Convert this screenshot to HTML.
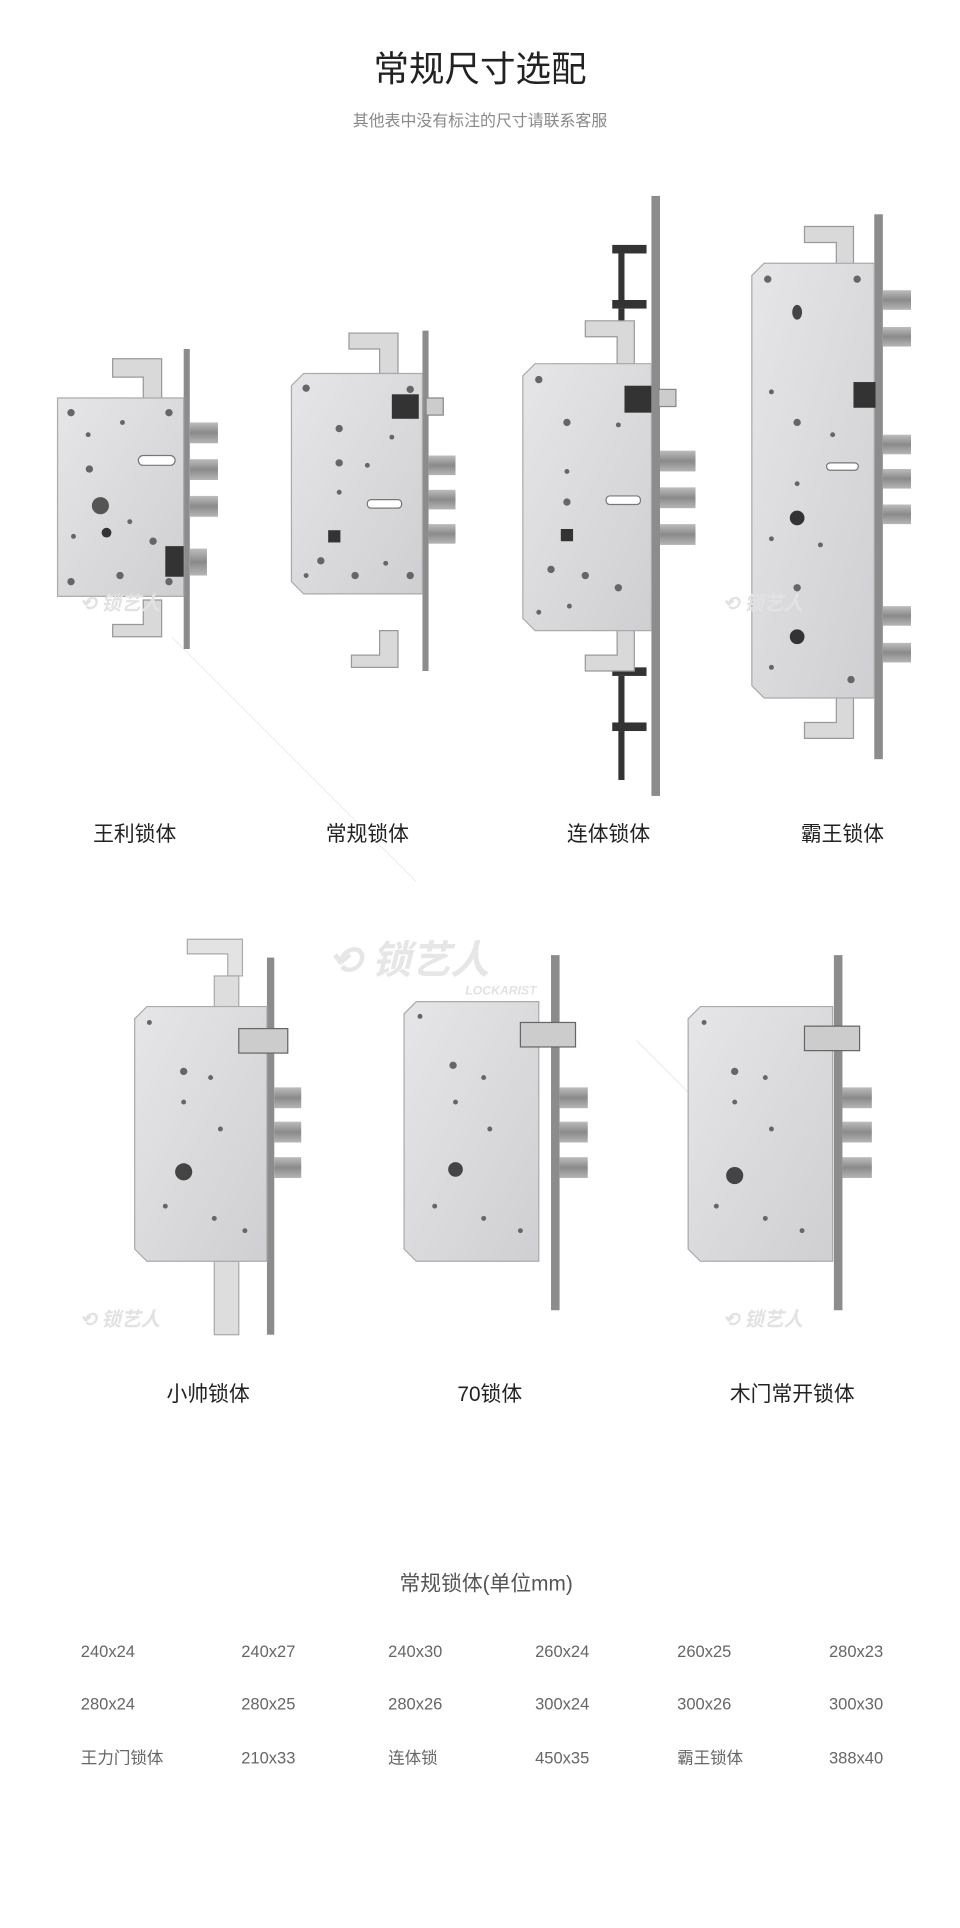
<!DOCTYPE html>
<html><head><meta charset="utf-8"><style>
html,body{margin:0;padding:0;background:#fff;}
svg{display:block;}
text{font-family:"Liberation Sans","Noto Sans CJK SC",sans-serif;}
</style></head><body>
<svg width="960" height="1928" viewBox="0 0 784 1574.5" preserveAspectRatio="none" xmlns="http://www.w3.org/2000/svg">
<defs>
<linearGradient id="g" x1="0" x2="1" y1="0" y2="1"><stop offset="0" stop-color="#e6e6e8"/><stop offset="1" stop-color="#cfcfd2"/></linearGradient>
<linearGradient id="b" x1="0" x2="0" y1="0" y2="1"><stop offset="0" stop-color="#bdbdbd"/><stop offset="0.5" stop-color="#8a8a8a"/><stop offset="1" stop-color="#b5b5b5"/></linearGradient>
</defs>
<rect width="784" height="1574.5" fill="#fff"/>
<!-- faint diagonal lines -->
<g stroke="#eee" stroke-width="1">
<line x1="140" y1="520" x2="340" y2="720"/><line x1="520" y1="850" x2="640" y2="970"/>
</g>
<text x="392" y="66" font-size="29" text-anchor="middle" fill="#222">常规尺寸选配</text>
<text x="392" y="103" font-size="13" text-anchor="middle" fill="#888">其他表中没有标注的尺寸请联系客服</text>

<!-- Lock 1 -->
<g>
<path d="M92 293h40v35h-15v-20h-25z" fill="#d9d9d9" stroke="#999"/>
<path d="M92 520h40v-30h-15v20h-25z" fill="#d9d9d9" stroke="#999"/>
<rect x="150" y="285" width="5" height="245" fill="#8c8c8c"/>
<rect x="47" y="325" width="103" height="162" fill="url(#g)" stroke="#aaa"/>
<rect x="155" y="345" width="23" height="17" fill="url(#b)"/><rect x="155" y="375" width="23" height="17" fill="url(#b)"/><rect x="155" y="405" width="23" height="17" fill="url(#b)"/>
<rect x="155" y="448" width="14" height="22" fill="url(#b)"/>
<rect x="135" y="446" width="15" height="25" fill="#333"/>
<rect x="113" y="372" width="30" height="8" rx="4" fill="#fff" stroke="#777"/>
<circle cx="82" cy="413" r="7" fill="#555"/><circle cx="87" cy="435" r="4" fill="#333"/>
<g fill="#666"><circle cx="58" cy="337" r="3"/><circle cx="138" cy="337" r="3"/><circle cx="58" cy="475" r="3"/><circle cx="138" cy="475" r="3"/><circle cx="100" cy="345" r="2"/><circle cx="72" cy="355" r="2"/><circle cx="73" cy="383" r="3"/><circle cx="106" cy="426" r="2"/><circle cx="125" cy="442" r="3"/><circle cx="98" cy="470" r="3"/><circle cx="60" cy="438" r="2"/></g>
</g>
<!-- Lock 2 -->
<g>
<path d="M285 272h40v33h-15v-20h-25z" fill="#d9d9d9" stroke="#999"/>
<path d="M287 545h38v-30h-15v20h-23z" fill="#d9d9d9" stroke="#999"/>
<rect x="345" y="270" width="5" height="278" fill="#8c8c8c"/>
<path d="M248 305h97v180h-97l-10-10v-160z" fill="url(#g)" stroke="#aaa"/>
<rect x="350" y="372" width="22" height="16" fill="url(#b)"/><rect x="350" y="400" width="22" height="16" fill="url(#b)"/><rect x="350" y="428" width="22" height="16" fill="url(#b)"/>
<rect x="320" y="322" width="22" height="20" fill="#333"/><rect x="348" y="325" width="14" height="14" fill="#ccc" stroke="#888"/>
<rect x="300" y="408" width="28" height="7" rx="3" fill="#fff" stroke="#777"/>
<rect x="268" y="433" width="10" height="10" fill="#333"/>
<g fill="#666"><circle cx="250" cy="317" r="3"/><circle cx="335" cy="318" r="3"/><circle cx="277" cy="350" r="3"/><circle cx="320" cy="357" r="2"/><circle cx="277" cy="378" r="3"/><circle cx="300" cy="380" r="2"/><circle cx="277" cy="402" r="2"/><circle cx="262" cy="458" r="3"/><circle cx="290" cy="470" r="3"/><circle cx="315" cy="460" r="2"/><circle cx="335" cy="470" r="3"/><circle cx="250" cy="470" r="2"/></g>
</g>
<!-- Lock 3 -->
<g>
<rect x="532" y="160" width="7" height="490" fill="#8c8c8c"/>
<g fill="#333"><rect x="500" y="200" width="28" height="7"/><rect x="505" y="207" width="5" height="40"/><rect x="500" y="245" width="28" height="7"/><rect x="505" y="252" width="5" height="40"/>
<rect x="500" y="545" width="28" height="7"/><rect x="505" y="552" width="5" height="40"/><rect x="500" y="590" width="28" height="7"/><rect x="505" y="597" width="5" height="40"/></g>
<path d="M478 262h40v35h-14v-22h-26z" fill="#d9d9d9" stroke="#999"/>
<path d="M478 548h40v-35h-14v22h-26z" fill="#d9d9d9" stroke="#999"/>
<path d="M437 297h95v218h-95l-10-10v-198z" fill="url(#g)" stroke="#aaa"/>
<rect x="539" y="368" width="29" height="17" fill="url(#b)"/><rect x="539" y="398" width="29" height="17" fill="url(#b)"/><rect x="539" y="428" width="29" height="17" fill="url(#b)"/>
<rect x="510" y="315" width="22" height="22" fill="#333"/><rect x="538" y="318" width="14" height="14" fill="#ccc" stroke="#888"/>
<rect x="495" y="405" width="28" height="7" rx="3" fill="#fff" stroke="#777"/>
<rect x="458" y="432" width="10" height="10" fill="#333"/>
<g fill="#666"><circle cx="440" cy="310" r="3"/><circle cx="463" cy="345" r="3"/><circle cx="505" cy="347" r="2"/><circle cx="463" cy="385" r="2"/><circle cx="463" cy="410" r="3"/><circle cx="450" cy="465" r="3"/><circle cx="478" cy="470" r="3"/><circle cx="505" cy="480" r="3"/><circle cx="465" cy="495" r="2"/><circle cx="440" cy="500" r="2"/></g>
</g>
<!-- Lock 4 -->
<g>
<path d="M657 185h40v35h-14v-22h-26z" fill="#d9d9d9" stroke="#999"/>
<path d="M657 603h40v-35h-14v22h-26z" fill="#d9d9d9" stroke="#999"/>
<rect x="714" y="175" width="7" height="445" fill="#8c8c8c"/>
<path d="M624 215h90v355h-90l-10-10v-335z" fill="url(#g)" stroke="#aaa"/>
<g fill="url(#b)"><rect x="721" y="237" width="23" height="16"/><rect x="721" y="267" width="23" height="16"/><rect x="721" y="355" width="23" height="16"/><rect x="721" y="383" width="23" height="16"/><rect x="721" y="412" width="23" height="16"/><rect x="721" y="495" width="23" height="16"/><rect x="721" y="525" width="23" height="16"/></g>
<rect x="697" y="312" width="18" height="21" fill="#333"/>
<rect x="675" y="378" width="26" height="6" rx="3" fill="#fff" stroke="#777"/>
<ellipse cx="651" cy="255" rx="4" ry="6" fill="#444"/><circle cx="651" cy="423" r="6" fill="#333"/><circle cx="651" cy="520" r="6" fill="#333"/>
<g fill="#666"><circle cx="627" cy="228" r="3"/><circle cx="700" cy="228" r="3"/><circle cx="651" cy="345" r="3"/><circle cx="630" cy="320" r="2"/><circle cx="680" cy="355" r="2"/><circle cx="651" cy="395" r="2"/><circle cx="630" cy="440" r="2"/><circle cx="670" cy="445" r="2"/><circle cx="651" cy="480" r="3"/><circle cx="630" cy="545" r="2"/><circle cx="695" cy="555" r="3"/></g>
</g>
<!-- watermarks -->
<g fill="#e2e2e2" font-size="16" font-style="italic" font-weight="bold">
<text x="65" y="498">⟲ 锁艺人</text><text x="590" y="498">⟲ 锁艺人</text>
<text x="590" y="1083">⟲ 锁艺人</text><text x="65" y="1083">⟲ 锁艺人</text>
<text x="268" y="795" font-size="32" fill="#e6e6e6">⟲ 锁艺人</text>
<text x="380" y="812" font-size="10" fill="#e2e2e2">LOCKARIST</text>
</g>
<g font-size="17" fill="#222" text-anchor="middle">
<text x="110" y="687">王利锁体</text><text x="300" y="687">常规锁体</text><text x="497" y="687">连体锁体</text><text x="688" y="687">霸王锁体</text>
<text x="170" y="1144">小帅锁体</text><text x="400" y="1144">70锁体</text><text x="647" y="1144">木门常开锁体</text>
</g>
<!-- Lock 5 -->
<g>
<path d="M153 767h45v30h-12v-18h-33z" fill="#e3e3e3" stroke="#aaa"/>
<rect x="175" y="797" width="20" height="25" fill="#ddd" stroke="#aaa"/>
<rect x="175" y="1030" width="20" height="60" fill="#ddd" stroke="#aaa"/>
<rect x="218" y="782" width="6" height="308" fill="#8c8c8c"/>
<path d="M120 822h98v208h-98l-10-10v-188z" fill="url(#g)" stroke="#aaa"/>
<g fill="url(#b)"><rect x="224" y="888" width="22" height="17"/><rect x="224" y="916" width="22" height="17"/><rect x="224" y="945" width="22" height="17"/></g>
<rect x="195" y="840" width="40" height="20" fill="#ccc" stroke="#666"/>
<circle cx="150" cy="957" r="7" fill="#444"/>
<g fill="#666"><circle cx="122" cy="835" r="2"/><circle cx="150" cy="875" r="3"/><circle cx="172" cy="880" r="2"/><circle cx="150" cy="900" r="2"/><circle cx="180" cy="922" r="2"/><circle cx="135" cy="985" r="2"/><circle cx="175" cy="995" r="2"/><circle cx="200" cy="1005" r="2"/></g>
</g>
<!-- Lock 6 -->
<g>
<rect x="450" y="780" width="7" height="290" fill="#8c8c8c"/>
<path d="M340 818h100v212h-100l-10-10v-192z" fill="url(#g)" stroke="#aaa"/>
<g fill="url(#b)"><rect x="457" y="888" width="23" height="17"/><rect x="457" y="916" width="23" height="17"/><rect x="457" y="945" width="23" height="17"/></g>
<rect x="425" y="835" width="45" height="20" fill="#ccc" stroke="#666"/>
<circle cx="372" cy="955" r="6" fill="#444"/>
<g fill="#666"><circle cx="343" cy="830" r="2"/><circle cx="370" cy="870" r="3"/><circle cx="395" cy="880" r="2"/><circle cx="372" cy="900" r="2"/><circle cx="400" cy="922" r="2"/><circle cx="355" cy="985" r="2"/><circle cx="395" cy="995" r="2"/><circle cx="425" cy="1005" r="2"/></g>
</g>
<!-- Lock 7 -->
<g>
<rect x="681" y="780" width="7" height="290" fill="#8c8c8c"/>
<path d="M572 822h108v208h-108l-10-10v-188z" fill="url(#g)" stroke="#aaa"/>
<g fill="url(#b)"><rect x="688" y="888" width="24" height="17"/><rect x="688" y="916" width="24" height="17"/><rect x="688" y="945" width="24" height="17"/></g>
<rect x="657" y="838" width="45" height="20" fill="#ccc" stroke="#666"/>
<circle cx="600" cy="960" r="7" fill="#444"/>
<g fill="#666"><circle cx="575" cy="835" r="2"/><circle cx="600" cy="875" r="3"/><circle cx="625" cy="880" r="2"/><circle cx="600" cy="900" r="2"/><circle cx="630" cy="922" r="2"/><circle cx="585" cy="985" r="2"/><circle cx="625" cy="995" r="2"/><circle cx="655" cy="1005" r="2"/></g>
</g>
<!-- table -->
<text x="397" y="1299" font-size="17" text-anchor="middle" fill="#555">常规锁体(单位mm)</text>
<g font-size="13.5" fill="#666">
<text x="66" y="1353">240x24</text><text x="197" y="1353">240x27</text><text x="317" y="1353">240x30</text><text x="437" y="1353">260x24</text><text x="553" y="1353">260x25</text><text x="677" y="1353">280x23</text>
<text x="66" y="1396">280x24</text><text x="197" y="1396">280x25</text><text x="317" y="1396">280x26</text><text x="437" y="1396">300x24</text><text x="553" y="1396">300x26</text><text x="677" y="1396">300x30</text>
<text x="66" y="1440">王力门锁体</text><text x="197" y="1440">210x33</text><text x="317" y="1440">连体锁</text><text x="437" y="1440">450x35</text><text x="553" y="1440">霸王锁体</text><text x="677" y="1440">388x40</text>
</g>
</svg>
</body></html>
